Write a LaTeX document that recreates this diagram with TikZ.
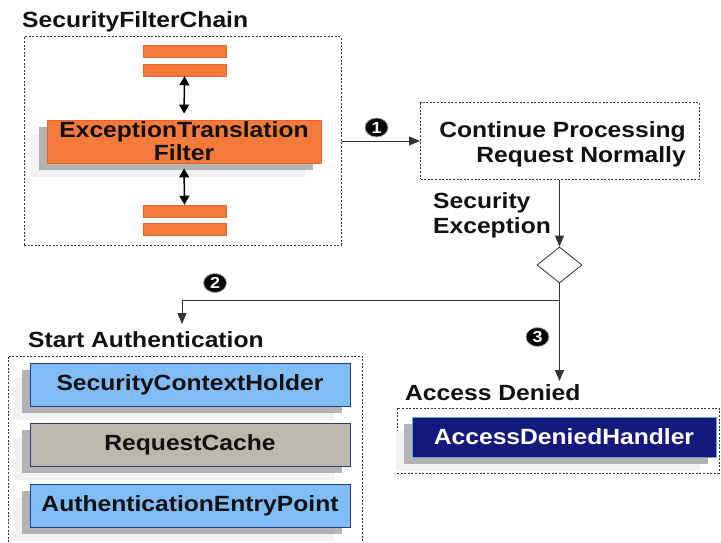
\documentclass[tikz,border=0pt]{standalone}
\usepackage{fontspec}
\setmainfont{Liberation Sans}[FakeStretch=1.12]
\usetikzlibrary{arrows.meta,shapes.geometric,shadows}
\definecolor{orng}{HTML}{F47A3C}
\definecolor{orngd}{HTML}{E0672E}
\definecolor{blu}{HTML}{80BDF6}
\definecolor{navyb}{HTML}{283C8C}
\definecolor{beige}{HTML}{BDB8AE}
\definecolor{adhfill}{HTML}{141A7B}
\definecolor{adhline}{HTML}{6A9FE0}
\definecolor{txt}{HTML}{111111}
\definecolor{lin}{HTML}{333333}
\definecolor{dsh}{HTML}{333333}
\definecolor{shd}{HTML}{B3B3B3}
\definecolor{shl}{HTML}{F2F2F2}
\newcommand{\fs}{\bfseries\fontsize{22}{24}\selectfont}
\begin{document}
\begin{tikzpicture}[x=1pt,y=-1pt,
  lbl/.style={font=\fs, text=txt, inner sep=0pt},
  grp/.style={draw=dsh, line width=1pt, dash pattern=on 2pt off 1.6pt, inner sep=0pt},
  bar/.style={fill=orng, draw=orngd, line width=0.5pt, minimum width=83pt, minimum height=12pt, inner sep=0pt},
  comp/.style={draw=navyb, line width=0.8pt, minimum width=320pt, minimum height=43pt, inner sep=0pt, font=\fs, text=txt,
    general shadow={shadow xshift=-16pt, shadow yshift=-14pt, fill=shl, draw=none},
    general shadow={shadow xshift=-8pt, shadow yshift=-7pt, fill=shd, draw=none}},
  conn/.style={draw=lin, line width=1pt, -{Triangle[length=11pt,width=9pt]}},
  plain/.style={draw=lin, line width=1pt},
  dbl/.style={draw=black, line width=1.5pt, {Triangle[length=9pt,width=10pt]}-{Triangle[length=9pt,width=10pt]}},
  num/.style={ellipse, fill=black, draw=gray!70, line width=0.8pt, text=white, font=\bfseries\fontsize{16}{16}\selectfont, minimum width=23pt, minimum height=19pt, inner sep=0pt}
]
\useasboundingbox (0,0) rectangle (721,543);

% SecurityFilterChain group
\node[grp, minimum width=317pt, minimum height=208pt] (chain) at (182.5,141) {};
\node[lbl, anchor=base west] (chaint) at (22,28) {SecurityFilterChain};
\node[bar] (b1) at (184.5,51) {};
\node[bar] (b2) at (184.5,70) {};
\node[bar] (b3) at (184.5,211) {};
\node[bar] (b4) at (184.5,229) {};
\node[comp, fill=orng, draw=orngd, minimum width=274pt, align=center, font=\bfseries\fontsize{22}{23}\selectfont] (etf) at (184,141.5) {ExceptionTranslation\\Filter};
\draw[dbl, shorten >=6pt] (b2.south) -- (etf.north);
\draw[dbl, shorten <=5pt] (etf.south) -- (b3.north);

% Continue processing
\node[grp, minimum width=279pt, minimum height=76pt] (cont) at (560,141) {};
\node[lbl, anchor=east, align=right, font=\bfseries\fontsize{22}{25}\selectfont] (contt) at (686,144) {Continue Processing\\Request Normally};
\draw[conn] (chain.east) -- (cont.west);
\node[num] (n1) at (376.5,127.5) {1};

% Decision
\node[draw=lin, line width=0.8pt, diamond, minimum width=45pt, minimum height=36pt, inner sep=0pt] (dia) at (559.5,265) {};
\draw[conn] (dia.north |- cont.south) -- (dia.north);
\node[lbl, anchor=west, align=left, font=\bfseries\fontsize{22}{25}\selectfont] (secx) at (433,215) {Security\\Exception};

\coordinate (jn) at (559.5,300);
\coordinate (sa) at (182,324);
\coordinate (ad) at (559.5,381);
\draw[plain] (dia.south) -- (jn);
\draw[conn] (jn) -| (sa);
\draw[conn] (jn) -- (ad);
\node[num] (n2) at (215,283) {2};
\node[num] (n3) at (537.5,337) {3};

% Start Authentication group
\node[lbl, anchor=base west] (sat) at (28,347) {Start Authentication};
\coordinate (g2a) at (8,546);
\coordinate (g2b) at (362,356);
\draw[grp] (g2a) |- (g2b) -- (g2b |- g2a);
\node[comp, fill=blu] (sch) at (190,384.5) {SecurityContextHolder};
\node[comp, fill=beige] (rc) at (190,444.5) {RequestCache};
\node[comp, fill=blu] (aep) at (190,505.5) {AuthenticationEntryPoint};

% Access Denied group
\node[lbl, anchor=base west] (adt) at (405,400) {Access Denied};
\node[grp, minimum width=322pt, minimum height=65pt] (adg) at (558,440.5) {};
\node[comp, fill=adhfill, draw=adhline, text=white, minimum width=304pt, minimum height=40pt] (adh) at (564,437) {AccessDeniedHandler};
\end{tikzpicture}
\end{document}
